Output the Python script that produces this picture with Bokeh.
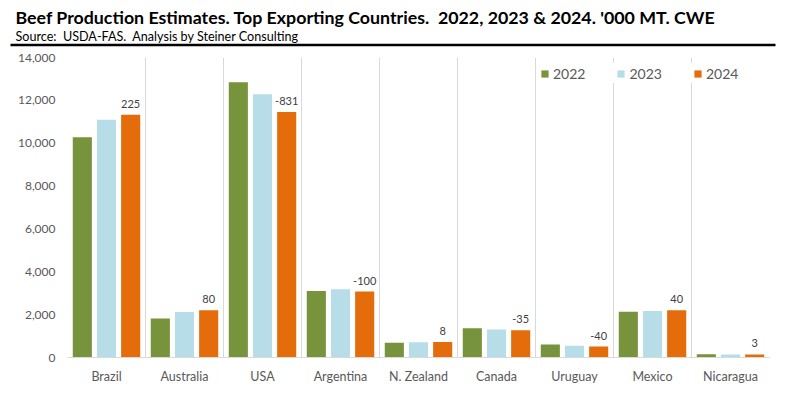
from bokeh.plotting import figure
from bokeh.models import (ColumnDataSource, FactorRange, Range1d, FixedTicker,
                          NumeralTickFormatter, Legend, LegendItem)
from bokeh.transform import dodge
from bokeh.core.properties import value
from bokeh.embed import file_html
from bokeh.resources import INLINE

# ---- data ----
countries = ["Brazil", "Australia", "USA", "Argentina", "N. Zealand",
             "Canada", "Uruguay", "Mexico", "Nicaragua"]
years = ["2022", "2023", "2024"]
y2022 = [10280, 1820, 12840, 3100, 690, 1370, 610, 2130, 150]
y2023 = [11100, 2120, 12290, 3180, 715, 1310, 550, 2170, 135]
y2024 = [11330, 2200, 11460, 3080, 723, 1275, 510, 2210, 145]
changes = ["225", "80", "-831", "-100", "8", "-35", "-40", "40", "3"]
y_ticks = [0, 2000, 4000, 6000, 8000, 10000, 12000, 14000]

title_text = "Beef Production Estimates. Top Exporting Countries.\u00a0 2022, 2023 & 2024. '000 MT. CWE"
source_text = "Source:\u00a0 USDA-FAS.\u00a0 Analysis by Steiner Consulting"

colors = ["#77933C", "#B7DEE8", "#E46C0A"]
FONT = "Lato"
W = 785

# ---- header figure (page y 0..47) ----
HH = 47
hdr = figure(width=W, height=HH, x_range=Range1d(0, W), y_range=Range1d(HH, 0),
             output_backend="svg", toolbar_location=None,
             min_border=0, min_border_left=0, min_border_right=0,
             min_border_top=0, min_border_bottom=0)
hdr.axis.visible = False
hdr.grid.visible = False
hdr.outline_line_color = None
hdr.text(x=[15], y=[16.8], text=[title_text], text_font=value(FONT),
         text_font_style="bold", text_font_size="17.8px", text_color="#000000",
         text_baseline="alphabetic", text_align="left")
hdr.text(x=[15], y=[35.5], text=[source_text], text_font=value(FONT),
         text_font_size="12.6px", text_color="#000000",
         text_baseline="alphabetic", text_align="left")
hdr.segment(x0=[10], y0=[44.5], x1=[775], y1=[44.5], line_color="#000000",
            line_width=2.4)

# ---- main chart (page y 47..394), frame x 67..769, y 57..357 ----
src = ColumnDataSource(dict(country=countries, y2022=y2022, y2023=y2023,
                            y2024=y2024, change=changes))
p = figure(width=W, height=394 - HH, x_range=FactorRange(*countries),
           y_range=Range1d(0, 14000), output_backend="svg",
           toolbar_location=None, min_border_left=67, min_border_right=16,
           min_border_top=57 - HH, min_border_bottom=37)
p.outline_line_color = None
p.background_fill_color = "white"

offs = [-0.31, 0.0, 0.31]
cols = ["y2022", "y2023", "y2024"]
renderers = []
for c, o, col in zip(cols, offs, colors):
    r = p.vbar(x=dodge("country", o, range=p.x_range), top=c, width=0.245,
               source=src, fill_color=col, line_color=None)
    renderers.append(r)

p.text(x=dodge("country", 0.31, range=p.x_range), y="y2024", text="change",
       source=src, text_font=value(FONT), text_font_size="11px",
       text_color="#404040", text_align="center", text_baseline="alphabetic",
       y_offset=-11)

# grid: vertical separators between categories only
p.ygrid.visible = False
p.xgrid.ticker = FixedTicker(ticks=list(range(len(countries) + 1)))
p.xgrid.grid_line_color = "#D9D9D9"
p.xgrid.grid_line_width = 1

p.yaxis.ticker = FixedTicker(ticks=y_ticks)
p.yaxis.formatter = NumeralTickFormatter(format="0,0")
p.yaxis.axis_line_color = None
p.yaxis.major_tick_line_color = None
p.yaxis.minor_tick_line_color = None
p.yaxis.major_tick_out = 0
p.yaxis.major_label_standoff = 12
p.yaxis.major_label_text_font = FONT
p.yaxis.major_label_text_font_size = "12px"
p.yaxis.major_label_text_color = "#595959"

p.xaxis.axis_line_color = "#D9D9D9"
p.xaxis.major_tick_line_color = None
p.xaxis.minor_tick_line_color = None
p.xaxis.major_tick_out = 0
p.xaxis.major_label_standoff = 11
p.xaxis.major_label_text_font = FONT
p.xaxis.major_label_text_font_size = "12.5px"
p.xaxis.major_label_text_color = "#595959"

legend = Legend(items=[LegendItem(label=y, renderers=[r]) for y, r in zip(years, renderers)],
                orientation="horizontal", location=(473, 274),
                glyph_width=9, glyph_height=9, label_standoff=4, spacing=31,
                padding=6, label_height=20, border_line_color=None,
                background_fill_color="white", background_fill_alpha=1.0,
                label_text_font=FONT, label_text_font_size="14px",
                label_text_color="#595959")
p.add_layout(legend, "center")

open("out.html", "w").write(file_html([hdr, p], INLINE))
